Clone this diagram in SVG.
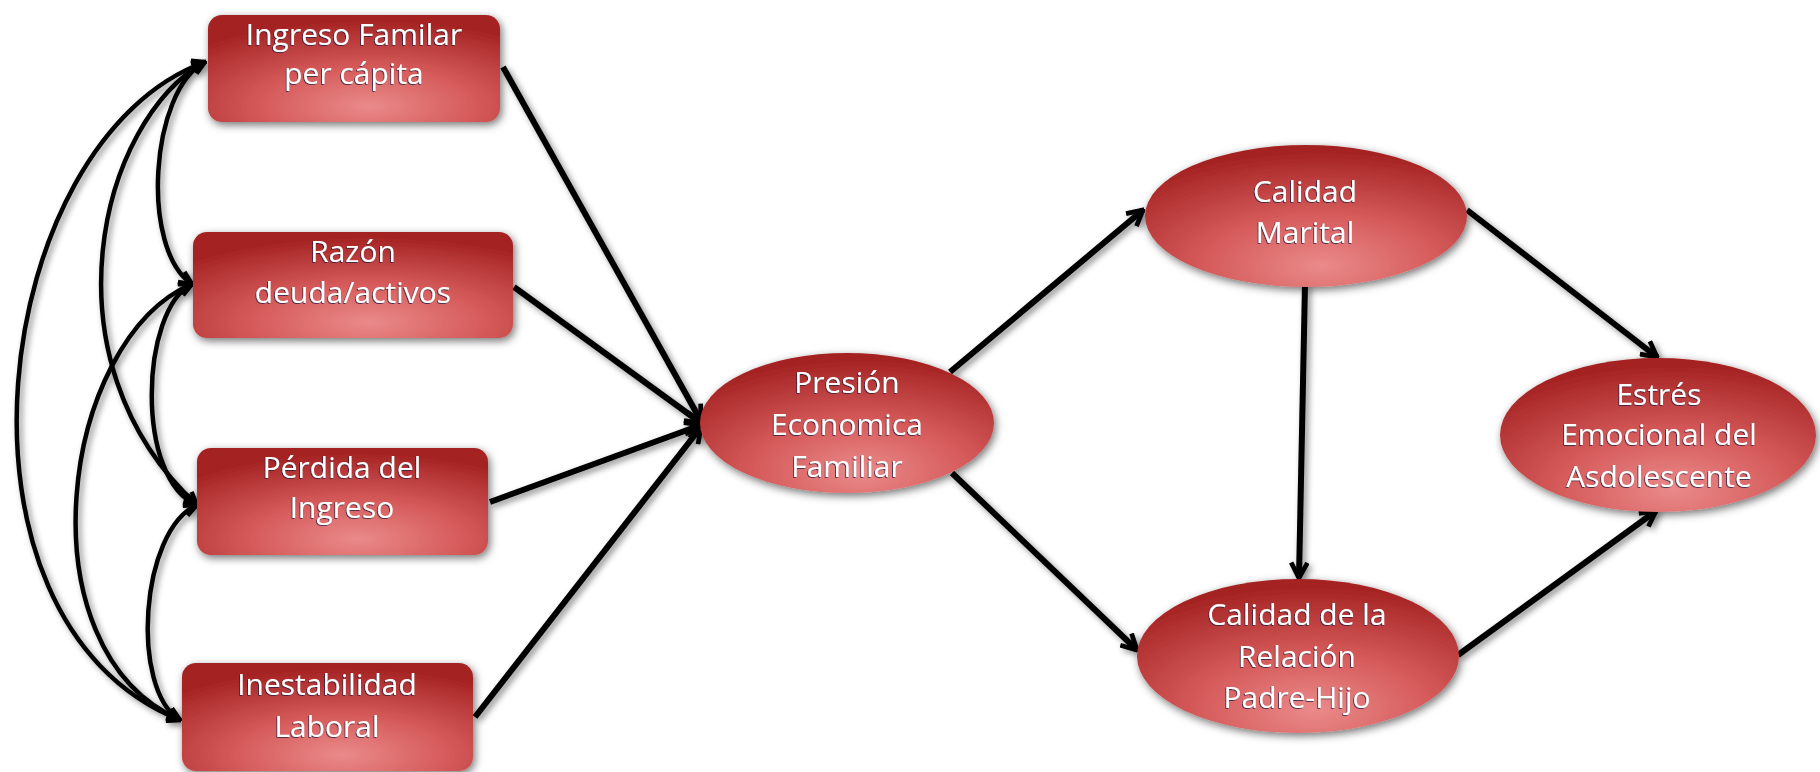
<svg xmlns="http://www.w3.org/2000/svg" width="1820" height="772" viewBox="0 0 1820 772">
  <defs>
    <style>
      .node { fill: url(#redFill); filter: url(#nodeShadow); }
      .label { font-family: "Open Sans", "Liberation Sans", sans-serif; font-size: 30px; fill: #ffffff; text-anchor: middle; filter: url(#textEdge); }
      .link { fill: none; stroke: #000000; stroke-width: 6; marker-end: url(#openArrow); }
      .corr { fill: none; stroke: #000000; stroke-width: 4.5; marker-start: url(#openArrowSmall); marker-end: url(#openArrowSmall); }
    </style>
    <radialGradient id="redFill" cx="0.55" cy="0.85" r="0.8" fx="0.55" fy="0.85">
      <stop offset="0" stop-color="#ea8a8a"/>
      <stop offset="0.45" stop-color="#d65b5b"/>
      <stop offset="1" stop-color="#a52323"/>
    </radialGradient>
    <filter id="nodeShadow" x="-20%" y="-30%" width="140%" height="160%">
      <feDropShadow dx="2" dy="3" stdDeviation="4" flood-color="#000000" flood-opacity="0.55"/>
    </filter>
    <filter id="lineShadow" x="-10%" y="-10%" width="120%" height="120%">
      <feDropShadow dx="3" dy="3" stdDeviation="3" flood-color="#000000" flood-opacity="0.45"/>
    </filter>
    <filter id="textEdge" x="-10%" y="-20%" width="120%" height="140%">
      <feDropShadow dx="-0.8" dy="0.8" stdDeviation="0.4" flood-color="#1a1a40" flood-opacity="0.9"/>
    </filter>
    <marker id="openArrow" viewBox="0 0 10 10" refX="9" refY="5" markerWidth="3.4" markerHeight="3.4" orient="auto" markerUnits="strokeWidth">
      <path d="M1.5,1 L9,5 L1.5,9" fill="none" stroke="#000000" stroke-width="2.3" stroke-linejoin="miter"/>
    </marker>
    <marker id="openArrowSmall" viewBox="0 0 10 10" refX="9" refY="5" markerWidth="3.8" markerHeight="3.8" orient="auto-start-reverse" markerUnits="strokeWidth">
      <path d="M1.5,1.5 L9,5 L1.5,8.5" fill="none" stroke="#000000" stroke-width="2.5" stroke-linejoin="miter"/>
    </marker>
  </defs>

  <!-- connectors -->
  <g id="connectors" filter="url(#lineShadow)">
    <!-- correlations among the four exogenous variables -->
    <path class="corr" d="M205,62 C150,90 140,250 192,284"/>
    <path class="corr" d="M205,62 C100,120 40,360 197,505"/>
    <path class="corr" d="M205,62 C-10,140 -70,620 180,720"/>
    <path class="corr" d="M192,284 C140,310 135,480 197,505"/>
    <path class="corr" d="M192,284 C60,340 20,650 180,720"/>
    <path class="corr" d="M197,505 C140,530 130,690 180,720"/>
    <!-- paths into economic pressure -->
    <path class="link" d="M503,67 L701,421"/>
    <path class="link" d="M514,287 L701,423"/>
    <path class="link" d="M490,502 L701,425"/>
    <path class="link" d="M475,717 L701,427"/>
    <!-- downstream paths -->
    <path class="link" d="M950,372 L1143,210"/>
    <path class="link" d="M952,473 L1137,650"/>
    <path class="link" d="M1305,284 L1299,578"/>
    <path class="link" d="M1467,210 L1657,357"/>
    <path class="link" d="M1458,655 L1656,511"/>
  </g>

  <g id="ingreso-familiar">
    <rect class="node" x="208" y="15" width="292" height="107" rx="14"/>
    <text class="label" x="354" y="45">Ingreso Familar</text>
    <text class="label" x="354" y="84">per cápita</text>
  </g>

  <g id="razon-deuda">
    <rect class="node" x="193" y="232" width="320" height="106" rx="14"/>
    <text class="label" x="353" y="262">Razón</text>
    <text class="label" x="353" y="303">deuda/activos</text>
  </g>

  <g id="perdida-ingreso">
    <rect class="node" x="197" y="448" width="291" height="107" rx="14"/>
    <text class="label" x="342" y="478">Pérdida del</text>
    <text class="label" x="342" y="518">Ingreso</text>
  </g>

  <g id="inestabilidad-laboral">
    <rect class="node" x="182" y="663" width="291" height="108" rx="14"/>
    <text class="label" x="327" y="695">Inestabilidad</text>
    <text class="label" x="327" y="737">Laboral</text>
  </g>

  <g id="presion-economica">
    <ellipse class="node" cx="847" cy="423" rx="147" ry="70"/>
    <text class="label" x="847" y="393">Presión</text>
    <text class="label" x="847" y="435">Economica</text>
    <text class="label" x="847" y="477">Familiar</text>
  </g>

  <g id="calidad-marital">
    <ellipse class="node" cx="1306" cy="216" rx="161" ry="71"/>
    <text class="label" x="1305" y="202">Calidad</text>
    <text class="label" x="1305" y="243">Marital</text>
  </g>

  <g id="relacion-padre-hijo">
    <ellipse class="node" cx="1298" cy="656" rx="161" ry="77"/>
    <text class="label" x="1297" y="625">Calidad de la</text>
    <text class="label" x="1297" y="667">Relación</text>
    <text class="label" x="1297" y="708">Padre-Hijo</text>
  </g>

  <g id="estres-emocional">
    <ellipse class="node" cx="1658" cy="435" rx="158" ry="77"/>
    <text class="label" x="1659" y="405">Estrés</text>
    <text class="label" x="1659" y="445">Emocional del</text>
    <text class="label" x="1659" y="487">Asdolescente</text>
  </g>
</svg>
